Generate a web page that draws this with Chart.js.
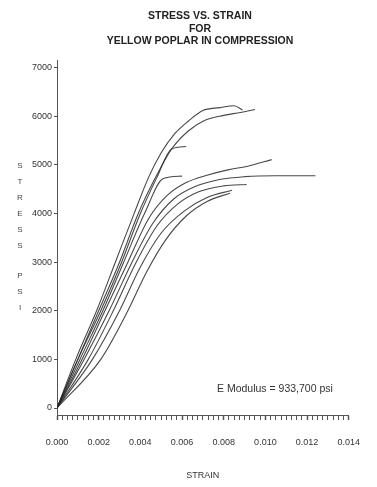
<!DOCTYPE html>
<html lang="en">
  <head>
    <meta charset="utf-8" />
    <title>Stress vs. Strain</title>
    <style>
      html, body { margin: 0; padding: 0; background: #fff; }
      #wrap { width: 377px; height: 487px; position: relative; }
    </style>
  </head>
  <body>
    <div id="wrap">
      <canvas id="myChart"></canvas>
    </div>
    <script src="https://cdn.jsdelivr.net/npm/chart.js"></script>
    <script>
      // specimens, strain (in/in) and stress (psi)
      const strainA = [0, 0.0009, 0.0019, 0.0028, 0.0037, 0.0044, 0.0050, 0.0056, 0.0063, 0.0070, 0.0078, 0.0085, 0.0089];
      const stressA = [0, 1000, 2000, 3000, 4000, 4750, 5250, 5620, 5900, 6120, 6180, 6220, 6130];
      const strainB = [0, 0.0010, 0.0020, 0.0030, 0.0039, 0.0047, 0.0055, 0.0063, 0.0071, 0.0080, 0.0088, 0.0095];
      const stressB = [0, 1000, 2000, 3000, 4000, 4720, 5330, 5700, 5920, 6020, 6080, 6140];
      const strainC = [0, 0.0010, 0.0021, 0.0031, 0.0040, 0.0048, 0.0055, 0.0062];
      const stressC = [0, 1000, 2000, 3000, 4000, 4750, 5330, 5380];
      const strainD = [0, 0.0011, 0.0022, 0.0032, 0.0042, 0.0051, 0.0060];
      const stressD = [0, 1000, 2000, 3000, 4000, 4720, 4770];
      const strainE = [0, 0.0012, 0.0023, 0.0034, 0.0044, 0.0053, 0.0062, 0.0072, 0.0082, 0.0092, 0.0103];
      const stressE = [0, 1000, 2000, 3000, 3900, 4380, 4640, 4790, 4900, 4980, 5110];
      const strainF = [0, 0.0013, 0.0025, 0.0036, 0.0046, 0.0056, 0.0066, 0.0078, 0.0090, 0.0105, 0.0124];
      const stressF = [0, 1000, 2000, 3000, 3800, 4300, 4550, 4700, 4760, 4780, 4780];
      const strainG = [0, 0.0015, 0.0027, 0.0038, 0.0048, 0.0058, 0.0068, 0.0080, 0.0091];
      const stressG = [0, 1000, 2000, 3000, 3750, 4200, 4450, 4570, 4600];
      const strainH = [0, 0.0017, 0.0030, 0.0040, 0.0050, 0.0061, 0.0072, 0.0084];
      const stressH = [0, 1000, 2000, 2900, 3600, 4050, 4330, 4480];
      const strainI = [0, 0.0021, 0.0034, 0.0043, 0.0052, 0.0062, 0.0072, 0.0083];
      const stressI = [0, 1000, 2000, 2800, 3450, 3950, 4250, 4420];

      const xTicks = [0, 0.002, 0.004, 0.006, 0.008, 0.010, 0.012, 0.014];
      const yTicks = [0, 1000, 2000, 3000, 4000, 5000, 6000, 7000];
      const titleLines = ['STRESS VS. STRAIN', 'FOR', 'YELLOW POPLAR IN COMPRESSION'];
      const modulusNote = 'E Modulus = 933,700 psi';

      const curves = [
        [strainA, stressA], [strainB, stressB], [strainC, stressC],
        [strainD, stressD], [strainE, stressE], [strainF, stressF],
        [strainG, stressG], [strainH, stressH], [strainI, stressI],
      ];

      const datasets = curves.map(function (c) {
        return {
          data: c[0].map((x, i) => ({ x: x, y: c[1][i] })),
          showLine: true,
          borderColor: 'rgba(40,40,40,0.85)',
          borderWidth: 1.1,
          pointRadius: 0,
          cubicInterpolationMode: 'monotone',
          fill: false,
        };
      });

      // minor ticks on the strain axis every 0.00025
      const minorStep = 0.00025;
      const xAllTicks = [];
      for (let k = 0; k <= 56; k++) xAllTicks.push(k * minorStep);

      const textPlugin = {
        id: 'textPlugin',
        afterDraw(chart) {
          const ctx = chart.ctx;
          ctx.save();
          ctx.fillStyle = '#222';
          ctx.textAlign = 'center';
          ctx.textBaseline = 'middle';
          ctx.font = 'bold 10.5px "Liberation Sans", Arial, sans-serif';
          const ty = [16, 29, 41];
          titleLines.forEach((t, i) => ctx.fillText(t, 200, ty[i]));

          // stacked y title
          ctx.fillStyle = '#444';
          ctx.font = '8px "Liberation Sans", Arial, sans-serif';
          'STRESS'.split('').forEach((ch, i) => ctx.fillText(ch, 20, 166 + i * 16));
          'PSI'.split('').forEach((ch, i) => ctx.fillText(ch, 20, 276 + i * 16));

          ctx.fillStyle = '#333';
          ctx.textAlign = 'left';
          ctx.font = '10.5px "Liberation Sans", Arial, sans-serif';
          ctx.fillText(modulusNote, 217, 389);
          ctx.restore();
        },
      };

      const config = {
        type: 'scatter',
        data: { datasets: datasets },
        options: {
          responsive: true,
          maintainAspectRatio: false,
          animation: false,
          layout: { padding: { left: 0, right: 22, top: 60, bottom: 0 } },
          plugins: {
            legend: { display: false },
            tooltip: { enabled: false },
          },
          scales: {
            x: {
              type: 'linear',
              min: 0,
              max: 0.014,
              afterBuildTicks: (s) => { s.ticks = xAllTicks.map((v) => ({ value: v })); },
              afterFit: (s) => { s.height = 72; },
              grid: {
                drawOnChartArea: false,
                tickLength: 5,
                tickColor: '#555',
                tickWidth: (c) => (xTicks.some((t) => Math.abs(t - c.tick.value) < 1e-7) ? 1.5 : 1),
              },
              border: { color: '#555', width: 1 },
              ticks: {
                autoSkip: false,
                maxRotation: 0,
                padding: 17,
                color: '#333',
                font: { family: '"Liberation Sans Narrow", "Liberation Sans", Arial', size: 9 },
                callback: function (v) {
                  return xTicks.some((t) => Math.abs(t - v) < 1e-7) ? v.toFixed(3) : '';
                },
              },
              title: {
                display: true,
                text: 'STRAIN',
                color: '#333',
                padding: 6,
                font: { family: '"Liberation Sans", Arial', size: 9 },
              },
            },
            y: {
              type: 'linear',
              min: -144,
              max: 7160,
              afterBuildTicks: (s) => { s.ticks = yTicks.map((v) => ({ value: v })); },
              afterFit: (s) => { s.width = 57; },
              grid: {
                drawOnChartArea: false,
                tickLength: 3,
                tickColor: '#555',
              },
              border: { color: '#555', width: 1 },
              ticks: {
                padding: 2,
                color: '#333',
                font: { family: '"Liberation Sans Narrow", "Liberation Sans", Arial', size: 9 },
                callback: (v) => String(v),
              },
            },
          },
        },
        plugins: [textPlugin],
      };

      var myChart = new Chart(document.getElementById('myChart'), config);
    </script>
  </body>
</html>
